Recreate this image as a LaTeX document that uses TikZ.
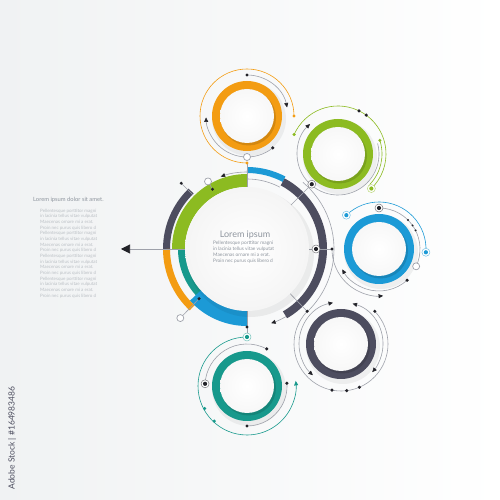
\documentclass[tikz,border=0pt]{standalone}
\usepackage{fontspec}
\setmainfont{Lato}
\usetikzlibrary{arrows.meta}

\definecolor{corange}{HTML}{F39C12}
\definecolor{cgreen}{HTML}{8CBB21}
\definecolor{cblue}{HTML}{1C9AD6}
\definecolor{cdark}{HTML}{4D4D5F}
\definecolor{cteal}{HTML}{17998C}
\definecolor{cline}{HTML}{9EA1AA}
\definecolor{cdot}{HTML}{222228}
\definecolor{ctext}{HTML}{8E959E}
\definecolor{cbg}{HTML}{F0F2F3}

\tikzset{
  thinln/.style={draw=cline, line width=0.6pt},
  band/.style={line width=#1},
  arrowend/.style={-{Triangle[length=4.5pt,width=4pt,color=cdot]}},
  bothends/.style={{Triangle[length=4.5pt,width=4pt,color=cdot]}-{Triangle[length=4.5pt,width=4pt,color=cdot]}},
  small text/.style={inner sep=0pt, text=ctext, align=left}
}

% arc round a named centre: [style]{centre}{from}{to}{radius}
\newcommand{\sarc}[5][]{\draw[#1] ([shift={(#3:#5)}]#2) arc[start angle=#3, end angle=#4, radius=#5];}
\newcommand{\bdot}[4][cdot]{\fill[#1] ([shift={(#3:#4)}]#2) circle (1.7);}
\newcommand{\hdot}[4][cdot]{\filldraw[fill=white, draw=#1!60, line width=0.5pt] ([shift={(#3:#4)}]#2) circle (4);
  \fill[#1] ([shift={(#3:#4)}]#2) circle (2.1);}
\newcommand{\opendot}[3]{\filldraw[fill=white, draw=cline, line width=0.7pt] ([shift={(#2:#3)}]#1) circle (3.5);}
\newcommand{\satring}[2]{%
  \fill[black, opacity=0.05] ([shift={(2,-3)}]#1) circle (37);
  \fill[#2] (#1) circle (35);
  \fill[black, opacity=0.13] ([shift={(1.5,-2)}]#1) circle (27.5);
  \shade[inner color=white, outer color=black!3] (#1) circle (27);}
\newcommand{\loremlines}{Pellentesque porttitor magni\\in lacinia tellus vitae vulputat\\Maecenas ornare mi a erat.\\Proin nec purus quis libero d}

\begin{document}
\begin{tikzpicture}[x=1pt, y=1pt]
\useasboundingbox (0,0) rectangle (500,500);
\shade[left color=cbg, right color=white] (0,0) rectangle (500,500);

\coordinate (m) at (247,251);
\coordinate (or) at (247,384);
\coordinate (gr) at (338,346);
\coordinate (bl) at (379,251);
\coordinate (dk) at (341,156);
\coordinate (tl) at (247,114);
\coordinate (arrowtip) at (121,251);

% coloured bands of the centre
\sarc[band=13, draw=cgreen]{m}{90}{180}{68.5}
\sarc[band=10, draw=cteal]{m}{180}{224}{64}
\sarc[band=19, draw=cblue]{m}{222}{270}{67.5}
\sarc[band=7, draw=cdark]{m}{134}{180}{80.5}
\sarc[band=7, draw=corange]{m}{180}{227}{80.5}
\sarc[band=6, draw=cblue]{m}{62}{90}{79}
\sarc[band=8, draw=cdark]{m}{-60}{62}{76}

% connectors of the centre
\draw[thinln, -{Triangle[length=9pt,width=9pt,color=cdot]}] ([shift={(180:62)}]m) -- (arrowtip);
\draw[thinln] ([shift={(90:62)}]m) -- ([shift={(270:47)}]or);
\draw[thinln] ([shift={(270:62)}]m) -- ([shift={(90:49)}]tl);
\draw[thinln] ([shift={(45:62)}]m) -- ([shift={(229:40)}]gr);
\draw[thinln] ([shift={(-46:62)}]m) -- ([shift={(136:47)}]dk);
\draw[thinln] ([shift={(0:62)}]m) -- ([shift={(180:47)}]bl);
\draw[thinln] ([shift={(135:76)}]m) -- ([shift={(135:93)}]m);
\draw[thinln] ([shift={(120:69)}]m) -- ([shift={(120:78)}]m);
\draw[thinln] ([shift={(226:69)}]m) -- ([shift={(226:96)}]m);
\sarc[thinln, arrowend]{m}{90}{110}{77}
\sarc[thinln]{m}{90}{62}{70}
\sarc[thinln]{m}{50}{-46}{87}
\sarc[thinln, arrowend]{m}{-60}{-72}{78}
\bdot{m}{135}{93}
\bdot{m}{120}{69}
\opendot{m}{120}{78}
\bdot{m}{226}{69}
\opendot{m}{226}{96}
\bdot{m}{270}{78}

% centre disc
\fill[black, opacity=0.06] ([shift={(3,-4)}]m) circle (64);
\shade[inner color=white, outer color=black!4] (m) circle (62);
\hdot{m}{0}{69}
\node[small text, font=\fontsize{9}{9}\selectfont] (title) at (245,265) {Lorem ipsum};
\node[small text, anchor=north west, font=\fontsize{4.8}{5.8}\selectfont] (body) at (213,259) {\loremlines};

% left text
\node[small text, anchor=west, font=\fontsize{5.8}{6}\selectfont] (head) at (33,300) {Lorem ipsum dolor sit amet.};
\node[small text, anchor=north west, text=ctext!60, font=\fontsize{4.5}{5.67}\selectfont] (lefttext) at (40,291.5)
  {\loremlines\\\loremlines\\\loremlines\\\loremlines};

% orange
\satring{or}{corange}
\sarc[thinln, draw=corange]{or}{270}{0}{47}
\bdot[corange]{or}{0}{47}
\bdot[corange]{or}{270}{47}
\sarc[thinln, arrowend]{or}{90}{12}{41}
\bdot{or}{90}{41}
\sarc[thinln, arrowend]{or}{-51}{-178}{41}
\bdot{or}{-51}{41}
\opendot{or}{-90}{41}

% green
\satring{gr}{cgreen}
\sarc[thinln, draw=cgreen]{gr}{156}{-46}{48}
\sarc[thinln, draw=cgreen]{gr}{18}{-44}{44}
\bdot[cgreen]{gr}{156}{48}
\bdot[cgreen]{gr}{18}{44}
\hdot[cgreen]{gr}{-46}{48}
\bdot{gr}{64}{48}
\bdot{gr}{54}{48}
\sarc[thinln, arrowend]{gr}{15}{-227}{41}
\hdot{gr}{229}{40}

% blue
\satring{bl}{cblue}
\sarc[thinln, draw=cblue]{bl}{134}{-4}{47}
\hdot[cblue]{bl}{134}{47}
\hdot[cblue]{bl}{-4}{47}
\sarc[thinln]{bl}{90}{-25}{41}
\hdot{bl}{90}{41}
\foreach \a in {45,35,27} {\fill[cdot] ([shift={(\a:41)}]bl) circle (1.1);}
\opendot{bl}{-25}{41}
\sarc[thinln, arrowend]{bl}{-48}{-151}{42}
\bdot{bl}{-48}{42}
\sarc[thinln, arrowend]{bl}{180}{275}{47}
\bdot{bl}{180}{47}

% dark
\satring{dk}{cdark}
\sarc[thinln]{dk}{136}{404}{47}
\foreach \a in {136,44,259,277,293} {\bdot{dk}{\a}{47}}
\sarc[thinln, bothends]{dk}{101}{228}{42}
\sarc[thinln, bothends]{dk}{74}{-42}{42}

% teal
\satring{tl}{cteal}
\sarc[thinln, draw=cteal, -{Triangle[length=4.5pt,width=4pt]}]{tl}{90}{366}{49}
\hdot[cteal]{tl}{90}{49}
\bdot[cteal]{tl}{208}{48}
\bdot[cteal]{tl}{227}{48}
\sarc[thinln]{tl}{62}{177}{42}
\bdot{tl}{62}{42}
\hdot{tl}{177}{42}
\sarc[thinln]{tl}{270}{364}{40}
\bdot{tl}{270}{40}
\bdot{tl}{364}{40}

\node[rotate=90, inner sep=0pt, text=cdark, font=\fontsize{8.5}{8.5}\selectfont] (stockid) at (12,62) {Adobe Stock | \#164983486};
\end{tikzpicture}
\end{document}
